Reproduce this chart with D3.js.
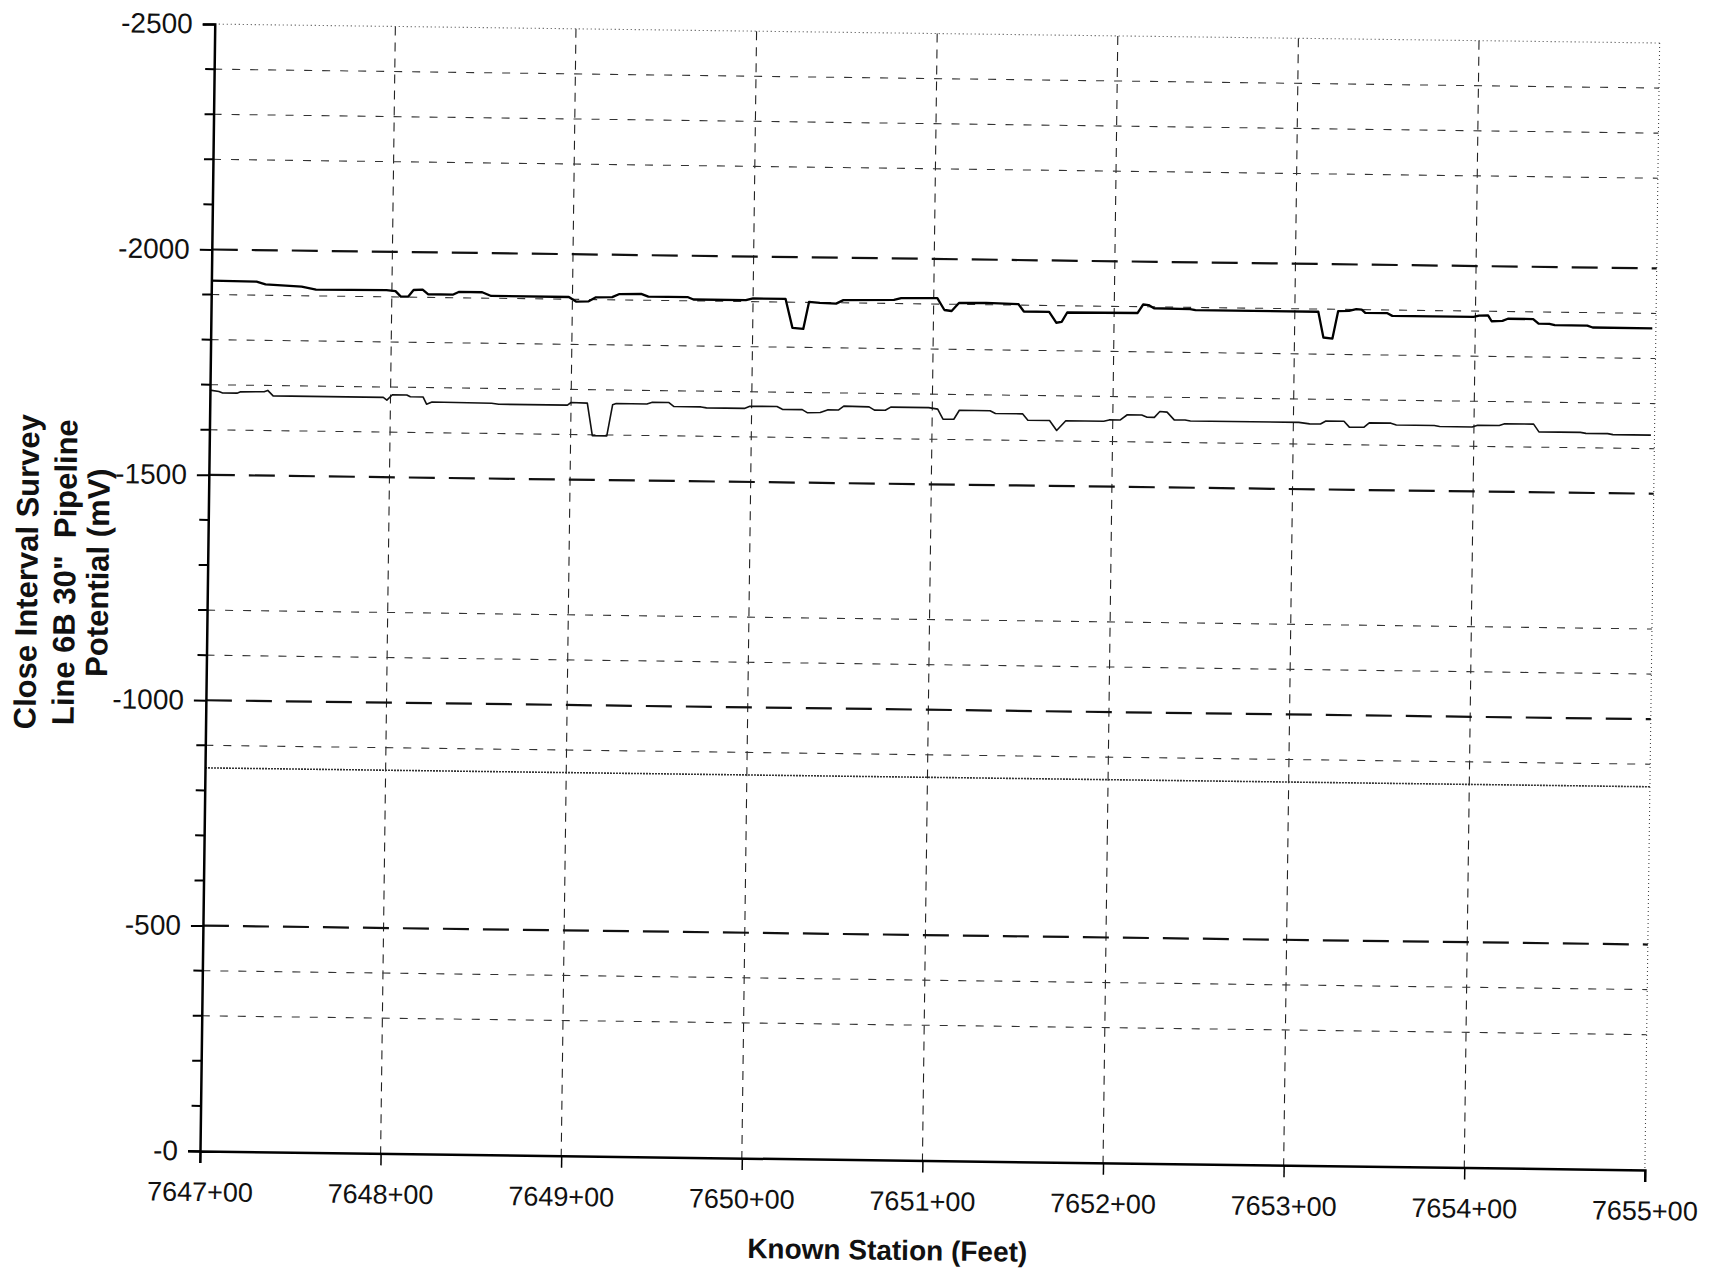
<!DOCTYPE html>
<html>
<head>
<meta charset="utf-8">
<script src="https://cdn.jsdelivr.net/npm/d3@7"></script>
<style>
html,body{margin:0;padding:0;background:#fff;}
svg{display:block;}
text{font-family:"Liberation Sans",Arial,sans-serif;fill:#111;}
</style>
</head>
<body>
<svg id="chart" width="1710" height="1269"></svg>
<script>
// ---- data ----
const xTickValues = [7647, 7648, 7649, 7650, 7651, 7652, 7653, 7654, 7655];
const xTickLabels = ["7647+00","7648+00","7649+00","7650+00","7651+00","7652+00","7653+00","7654+00","7655+00"];
const yTickValues = [-2500, -2000, -1500, -1000, -500, 0];
const yTickLabels = ["-2500","-2000","-1500","-1000","-500","-0"];
const yMinorTicks = [-2400,-2300,-2200,-2100,-1900,-1800,-1700,-1600,-1400,-1300,-1200,-1100,-900,-800,-700,-600,-400,-300,-200,-100];
const heavyRefLines = [-2000, -1500, -1000, -500];
const lightRefLines = [-2400, -2300, -2200, -1900, -1800, -1700, -1600, -1200, -1100, -900, -400, -300];
const criterionLine = [-850];

const upperStations = [7647.00,7647.25,7647.30,7647.50,7647.58,7647.97,7648.02,7648.05,7648.09,7648.12,7648.17,7648.20,7648.34,7648.37,7648.50,7648.55,7648.98,7649.02,7649.09,7649.13,7649.22,7649.26,7649.38,7649.42,7649.64,7649.67,7649.96,7650.00,7650.18,7650.22,7650.28,7650.31,7650.37,7650.46,7650.50,7650.78,7650.82,7651.02,7651.06,7651.10,7651.14,7651.29,7651.47,7651.50,7651.64,7651.68,7651.71,7651.74,7652.13,7652.16,7652.19,7652.22,7652.42,7652.45,7653.13,7653.16,7653.21,7653.24,7653.30,7653.34,7653.37,7653.39,7653.51,7653.54,7653.99,7654.02,7654.07,7654.09,7654.15,7654.18,7654.32,7654.35,7654.41,7654.44,7654.62,7654.65,7654.98];
const upperValues   = [-1931,-1930,-1924,-1920,-1914,-1915,-1913,-1901,-1901,-1916,-1917,-1907,-1907,-1913,-1913,-1905,-1905,-1895,-1896,-1905,-1906,-1913,-1914,-1908,-1908,-1903,-1903,-1907,-1907,-1843,-1841,-1901,-1899,-1898,-1906,-1908,-1912,-1913,-1887,-1885,-1903,-1904,-1902,-1886,-1886,-1862,-1864,-1885,-1886,-1905,-1904,-1897,-1896,-1894,-1894,-1837,-1835,-1896,-1897,-1901,-1900,-1893,-1893,-1887,-1887,-1890,-1891,-1878,-1879,-1884,-1884,-1874,-1874,-1871,-1871,-1867,-1867];

const lowerStations = [7647.00,7647.05,7647.07,7647.15,7647.17,7647.30,7647.32,7647.35,7647.96,7647.98,7648.01,7648.09,7648.11,7648.18,7648.20,7648.23,7648.56,7648.60,7648.98,7649.00,7649.09,7649.12,7649.20,7649.23,7649.25,7649.42,7649.45,7649.54,7649.57,7649.72,7649.75,7649.96,7649.99,7650.14,7650.17,7650.28,7650.31,7650.38,7650.42,7650.48,7650.51,7650.65,7650.68,7650.74,7650.77,7650.98,7651.03,7651.06,7651.12,7651.15,7651.32,7651.35,7651.50,7651.53,7651.65,7651.69,7651.74,7651.95,7651.98,7652.04,7652.08,7652.16,7652.19,7652.23,7652.26,7652.30,7652.34,7652.40,7652.43,7653.03,7653.09,7653.15,7653.18,7653.28,7653.31,7653.39,7653.42,7653.54,7653.57,7653.78,7653.81,7653.99,7654.02,7654.14,7654.17,7654.33,7654.36,7654.59,7654.62,7654.74,7654.77,7654.98];
const lowerValues   = [-1688,-1685,-1682,-1682,-1685,-1686,-1689,-1677,-1677,-1671,-1683,-1683,-1679,-1679,-1663,-1668,-1667,-1665,-1665,-1671,-1670,-1598,-1598,-1667,-1670,-1670,-1674,-1674,-1665,-1665,-1663,-1663,-1668,-1668,-1662,-1662,-1655,-1656,-1662,-1662,-1671,-1670,-1663,-1663,-1670,-1670,-1667,-1645,-1645,-1665,-1665,-1659,-1659,-1645,-1645,-1623,-1645,-1645,-1648,-1648,-1660,-1660,-1655,-1655,-1668,-1667,-1650,-1650,-1648,-1648,-1645,-1645,-1652,-1652,-1639,-1639,-1649,-1649,-1645,-1645,-1643,-1643,-1647,-1647,-1651,-1651,-1634,-1634,-1632,-1632,-1630,-1630];

// ---- layout ----
const originX = 200, originY = 1151, W = 1445, H = 1127, tilt = 0.75;

const svg = d3.select("#chart");
svg.append("rect").attr("width",1710).attr("height",1269).attr("fill","#fff");
const root = svg.append("g").attr("transform", `rotate(${tilt},${originX},${originY})`);
const g = root.append("g").attr("transform", `translate(${originX},${originY - H})`);

const x = d3.scaleLinear().domain([7647, 7655]).range([0, W]);
const y = d3.scaleLinear().domain([-2500, 0]).range([0, H]);

// vertical grid lines
g.selectAll(".vgrid").data(xTickValues.slice(1, -1)).join("line")
  .attr("x1", d => x(d)).attr("x2", d => x(d)).attr("y1", 0).attr("y2", H)
  .attr("stroke", "#222").attr("stroke-width", 1.1).attr("stroke-dasharray", "9,7");
// right border (dotted)
g.append("line").attr("x1", x(7655)).attr("x2", x(7655)).attr("y1", 0).attr("y2", H)
  .attr("stroke", "#444").attr("stroke-width", 1.1).attr("stroke-dasharray", "1,3");
// top border (dotted)
g.append("line").attr("x1", 0).attr("x2", W).attr("y1", y(-2500)).attr("y2", y(-2500))
  .attr("stroke", "#444").attr("stroke-width", 1.1).attr("stroke-dasharray", "1,3");

// light dashed horizontal lines
g.selectAll(".lgrid").data(lightRefLines).join("line")
  .attr("x1", 0).attr("x2", W).attr("y1", d => y(d)).attr("y2", d => y(d))
  .attr("stroke", "#333").attr("stroke-width", 1.1).attr("stroke-dasharray", "8,10");
// heavy dashed horizontal lines
g.selectAll(".hgrid").data(heavyRefLines).join("line")
  .attr("x1", 0).attr("x2", W).attr("y1", d => y(d)).attr("y2", d => y(d))
  .attr("stroke", "#111").attr("stroke-width", 2.2).attr("stroke-dasharray", "26,14");
// -850 criterion (dense dotted)
g.selectAll(".crit").data(criterionLine).join("line")
  .attr("x1", 0).attr("x2", W).attr("y1", d => y(d)).attr("y2", d => y(d))
  .attr("stroke", "#333").attr("stroke-width", 1.6).attr("stroke-dasharray", "2,1");

// series
const line = d3.line().x(d => x(d[0])).y(d => y(d[1]));
const upper = upperStations.map((s, i) => [s, upperValues[i]]);
const lower = lowerStations.map((s, i) => [s, lowerValues[i]]);
g.append("path").datum(upper).attr("d", line).attr("fill", "none")
  .attr("stroke", "#000").attr("stroke-width", 2.3).attr("stroke-linejoin", "round");
g.append("path").datum(lower).attr("d", line).attr("fill", "none")
  .attr("stroke", "#111").attr("stroke-width", 1.6).attr("stroke-linejoin", "round");

// y axis
const yAxis = d3.axisLeft(y).tickValues(yTickValues)
  .tickFormat((d, i) => yTickLabels[i]).tickSize(12).tickPadding(10);
const ya = g.append("g").call(yAxis);
ya.select(".domain").attr("stroke", "#000").attr("stroke-width", 2.5);
ya.selectAll(".tick line").attr("stroke", "#000").attr("stroke-width", 2);
ya.selectAll(".tick text").attr("font-size", 28).attr("fill", "#111")
  .style("font-family", '"Liberation Sans", Arial, sans-serif');
g.selectAll(".yminor").data(yMinorTicks).join("line")
  .attr("x1", -9).attr("x2", 0).attr("y1", d => y(d)).attr("y2", d => y(d))
  .attr("stroke", "#000").attr("stroke-width", 2);

// x axis
const xAxis = d3.axisBottom(x).tickValues(xTickValues)
  .tickFormat((d, i) => xTickLabels[i]).tickSize(12).tickPadding(19);
const xa = g.append("g").attr("transform", `translate(0,${H})`).call(xAxis);
xa.select(".domain").attr("stroke", "#000").attr("stroke-width", 2.5);
xa.selectAll(".tick line").attr("stroke", "#000").attr("stroke-width", 1.5);
xa.selectAll(".tick text").attr("font-size", 27).attr("fill", "#111")
  .style("font-family", '"Liberation Sans", Arial, sans-serif');

// axis titles
g.append("text").attr("x", W / 2 - 34).attr("y", H + 90).attr("dy", "0.35em")
  .attr("text-anchor", "middle").attr("font-size", 28).attr("font-weight", "bold")
  .text("Known Station (Feet)");

const yTitle = ["Close Interval Survey", "Line 6B 30\"  Pipeline", "Potential (mV)"];
const yTitleX = [19, 57, 90];
yTitle.forEach((t, i) => {
  g.append("text")
    .attr("transform", `translate(${yTitleX[i] - originX},${574 - (originY - H)}) rotate(-90)`)
    .attr("dy", "0.35em").attr("text-anchor", "middle")
    .attr("font-size", 31).attr("font-weight", "bold")
    .style("white-space", "pre").attr("xml:space", "preserve")
    .text(t);
});
</script>
</body>
</html>
